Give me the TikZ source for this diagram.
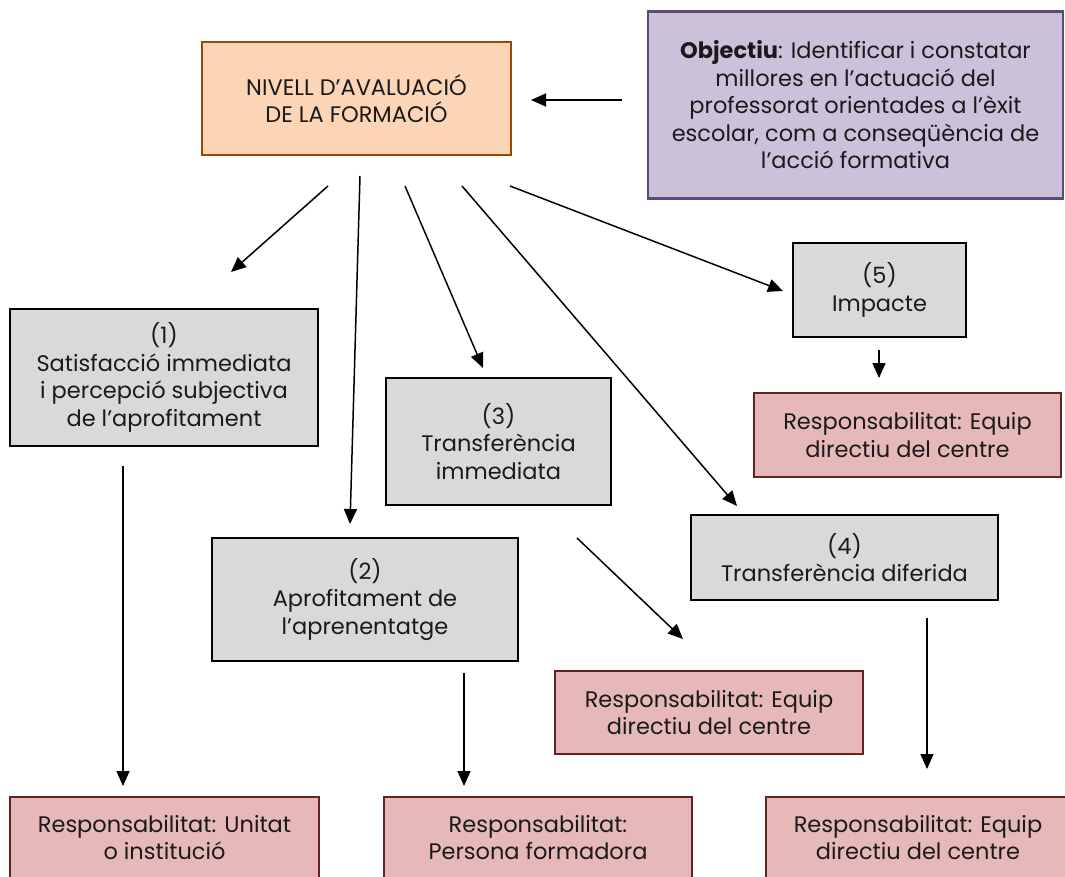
\documentclass[tikz,border=0pt]{standalone}
\usepackage{fontspec}
\setmainfont{Poppins}
\usetikzlibrary{arrows.meta}

\definecolor{grayfill}{HTML}{D9D9D9}
\definecolor{redfill}{HTML}{E6B9B8}
\definecolor{redline}{HTML}{632523}
\definecolor{orangefill}{HTML}{FBD5B5}
\definecolor{orangeline}{HTML}{984807}
\definecolor{purplefill}{HTML}{CCC1DA}
\definecolor{purpleline}{HTML}{5F497A}
\definecolor{ink}{HTML}{1A1A1A}

\tikzset{
  base/.style={rectangle, inner sep=0pt, align=center, line width=2.5pt,
    text=ink, font=\fontsize{22.5}{27.5}\selectfont},
  levelbox/.style={base, draw=black, fill=grayfill},
  respbox/.style={base, draw=redline, fill=redfill},
  headbox/.style={base, draw=orangeline, fill=orangefill},
  goalbox/.style={base, draw=purpleline, fill=purplefill},
  link/.style={line width=1.5pt, -{Triangle[length=15pt,width=13pt]}},
}

\begin{document}
\begin{tikzpicture}[x=1pt, y=-1pt]
\useasboundingbox (0,0) rectangle (1065,876);
\clip (0,0) rectangle (1065,876);

% header and objective
\node[headbox, minimum width=309, minimum height=113] (head) at (356.5,98.5)
  {NIVELL D’AVALUACIÓ\\DE LA FORMACIÓ};
\node[goalbox, minimum width=415, minimum height=187] (goal) at (855.5,105)
  {\textbf{Objectiu}: Identificar i constatar\\millores en l’actuació del\\professorat orientades a l’èxit\\escolar, com a conseqüència de\\l’acció formativa};

% evaluation levels
\node[levelbox, minimum width=308, minimum height=137] (lv1) at (164,377.5)
  {(1)\\Satisfacció immediata\\i percepció subjectiva\\de l’aprofitament};
\node[levelbox, minimum width=306, minimum height=123] (lv2) at (365,599.5)
  {(2)\\Aprofitament de\\l’aprenentatge};
\node[levelbox, minimum width=225, minimum height=127] (lv3) at (498.5,441.5)
  {(3)\\Transferència\\immediata};
\node[levelbox, minimum width=307, minimum height=85] (lv4) at (844.5,557.5)
  {(4)\\Transferència diferida};
\node[levelbox, minimum width=173, minimum height=94] (lv5) at (879.5,290)
  {(5)\\Impacte};

% responsibilities
\node[respbox, minimum width=307, minimum height=84] (rs5) at (907.5,435)
  {Responsabilitat: Equip\\directiu del centre};
\node[respbox, minimum width=308, minimum height=83] (rs3) at (709,712.5)
  {Responsabilitat: Equip\\directiu del centre};
\node[respbox, minimum width=309, minimum height=81] (rs1) at (164.5,837.5)
  {Responsabilitat: Unitat\\o institució};
\node[respbox, minimum width=308, minimum height=81] (rs2) at (538,837.5)
  {Responsabilitat:\\Persona formadora};
\node[respbox, minimum width=304, minimum height=81] (rs4) at (918,837.5)
  {Responsabilitat: Equip\\directiu del centre};

% free arrow ends
\coordinate (g0) at (622,100);  \coordinate (h0) at (531,100);
\coordinate (s1) at (328,186);  \coordinate (t1) at (231,272);
\coordinate (s2) at (360,176);  \coordinate (t2) at (350,524);
\coordinate (s3) at (405,186);  \coordinate (t3) at (483,368);
\coordinate (s4) at (462,186);  \coordinate (t4) at (737,506);
\coordinate (s5) at (510,186);  \coordinate (t5) at (783,291);
\coordinate (u5) at (879,350);  \coordinate (v5) at (879,378);
\coordinate (u3) at (577,538);  \coordinate (v3) at (683,639);
\coordinate (u1) at (123,466);  \coordinate (v1) at (123,786);
\coordinate (u2) at (464,673);  \coordinate (v2) at (464,786);
\coordinate (u4) at (927,618);  \coordinate (v4) at (927,769);

\draw[link] (g0) -- (h0);
\draw[link] (s1) -- (t1);
\draw[link] (s2) -- (t2);
\draw[link] (s3) -- (t3);
\draw[link] (s4) -- (t4);
\draw[link] (s5) -- (t5);
\draw[link] (u5) -- (v5);
\draw[link] (u3) -- (v3);
\draw[link] (u1) -- (v1);
\draw[link] (u2) -- (v2);
\draw[link] (u4) -- (v4);
\end{tikzpicture}
\end{document}
